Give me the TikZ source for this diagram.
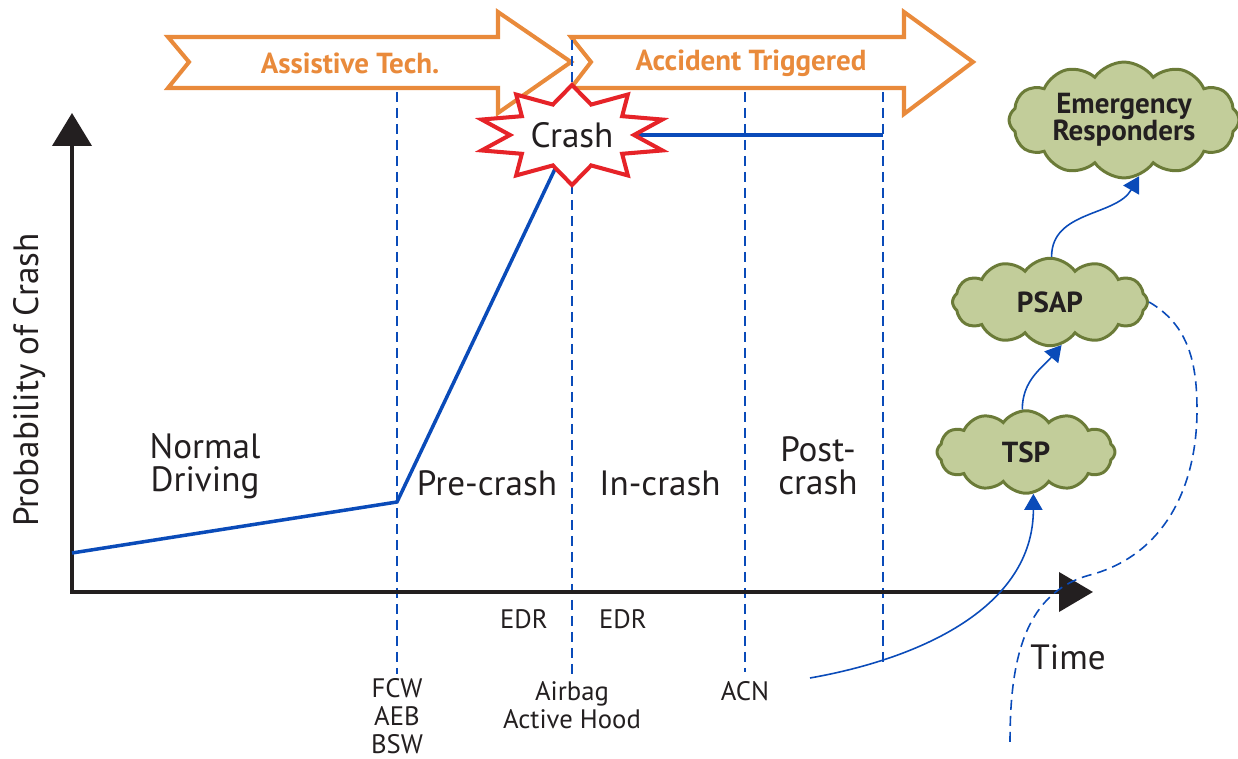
\documentclass[tikz,border=0pt]{standalone}
\usepackage{fontspec}
\setmainfont{PT Sans}
\usetikzlibrary{arrows.meta,shapes.symbols,positioning}

\definecolor{axisblack}{RGB}{35,31,32}
\definecolor{lineblue}{RGB}{10,75,185}
\definecolor{techorange}{RGB}{233,138,59}
\definecolor{crashred}{RGB}{230,35,40}
\definecolor{cloudgreen}{RGB}{194,205,154}
\definecolor{cloudedge}{RGB}{107,123,56}

\tikzset{
  axisline/.style={draw=axisblack, line width=2.3pt,
    {Triangle[width=0.78cm,length=0.66cm]}-{Triangle[width=0.78cm,length=0.68cm]}},
  probline/.style={draw=lineblue, line width=2pt},
  phaseline/.style={draw=lineblue, line width=1pt, dash pattern=on 0.2cm off 0.12cm},
  bandarrow/.style={draw=techorange, line width=2.3pt, fill=white, line join=miter},
  bandtext/.style={text=techorange, font=\fontsize{16.5}{18}\selectfont\bfseries},
  crashstar/.style={draw=crashred, line width=2.3pt, fill=white},
  bigtext/.style={font=\fontsize{20}{19}\selectfont, align=center, text=axisblack},
  smalltext/.style={font=\fontsize{15.2}{15.9}\selectfont, align=center, text=axisblack},
  cloudnode/.style={cloud, cloud puffs=12, cloud puff arc=110, aspect=2.2, draw=cloudedge,
    fill=cloudgreen, line width=1.7pt, inner sep=0pt, align=center, text=axisblack,
    font=\fontsize{16.5}{15.3}\selectfont\bfseries},
  flow/.style={draw=lineblue, line width=0.9pt, -{Triangle[width=0.36cm,length=0.32cm]}},
  flowdash/.style={draw=lineblue, line width=0.9pt, dash pattern=on 0.2cm off 0.12cm},
}

\begin{document}
\begin{tikzpicture}[x=0.02cm,y=0.02cm]
\useasboundingbox (0,0) rectangle (1238,-759);

% 两个阶段箭头
\draw[bandarrow] (168,-37) -- (498,-37) -- (498,-12) -- (571,-62) -- (498,-113)
  -- (498,-88) -- (168,-88) -- (189,-62) -- cycle;
\draw[bandarrow] (571,-37) -- (904,-37) -- (904,-12) -- (973,-62) -- (904,-114)
  -- (904,-88) -- (571,-88) -- (591,-62) -- cycle;
\node[bandtext] (assist) at (350,-63) {Assistive Tech.};
\node[bandtext] (trigger) at (751,-63) {Accident Triggered};

% 阶段分隔线
\draw[phaseline] (397,-92) -- (397,-674);
\draw[phaseline] (572,-40) -- (572,-674);
\draw[phaseline] (745,-92) -- (745,-672);
\draw[phaseline] (883,-92) -- (883,-662);

% 坐标轴
\coordinate (O) at (72,-592);
\coordinate (Y) at (72,-113);
\coordinate (X) at (1093,-592);
\draw[axisline] (Y) |- (X);

% 概率曲线
\coordinate (P0) at (72,-553);
\coordinate (P1) at (397,-502);
\coordinate (P2) at (564,-150);
\coordinate (boom) at (572,-135);
\coordinate (P3) at (883,-135);
\draw[probline] (P0) -- (P1) -- (P2);
\draw[probline] (boom) -- (P3);

% 碰撞星形
\begin{scope}[shift={(boom)}]
\draw[crashstar] (90:95 and 50)
  \foreach \a in {0,36,...,324} { -- ({108+\a}:62 and 32) -- ({126+\a}:95 and 50) } -- cycle;
\end{scope}
\node[bigtext] (crash) at (boom) {Crash};

% 阶段文字
\node[bigtext] (normal) at (205,-466) {Normal\\Driving};
\node[bigtext] (pre) at (487,-483) {Pre-crash};
\node[bigtext] (in) at (660,-483) {In-crash};
\node[bigtext] (post) at (818,-466) {Post-\\crash};
\node[bigtext, rotate=90] (prob) at (30,-380) {Probability of Crash};
\node[bigtext] (time) at (1068,-657) {Time};

% 系统标注
\node[smalltext] (edr1) at (524,-619) {EDR};
\node[smalltext] (edr2) at (623,-619) {EDR};
\node[smalltext] (fcw) at (397,-716) {FCW\\AEB\\BSW};
\node[smalltext] (airbag) at (572,-705) {Airbag\\Active Hood};
\node[smalltext] (acn) at (745,-691) {ACN};

% 云
\node[cloudnode, minimum width=3.56cm, minimum height=1.65cm] (tsp) at (1026,-452) {TSP};
\node[cloudnode, minimum width=3.9cm, minimum height=1.75cm] (psap) at (1050,-302) {PSAP};
\node[cloudnode, minimum width=4.6cm, minimum height=2.0cm] (er) at (1124,-120) {Emergency\\Responders};

% 信息流
\coordinate (acnend) at (810,-678);
\coordinate (dashend) at (1010,-743);
\draw[flow] (acnend) to[out=10,in=-90] (tsp.-80);
\draw[flow] (tsp.95) to[out=90,in=-130] (psap.-75);
\draw[flow] (psap.88) to[out=90,in=-120] (er.-75);
\draw[flowdash] (psap.east) to[out=-30,in=90] (1197,-410) to[out=-90,in=15] (1090,-575)
  to[out=195,in=90] (dashend);
\end{tikzpicture}
\end{document}
